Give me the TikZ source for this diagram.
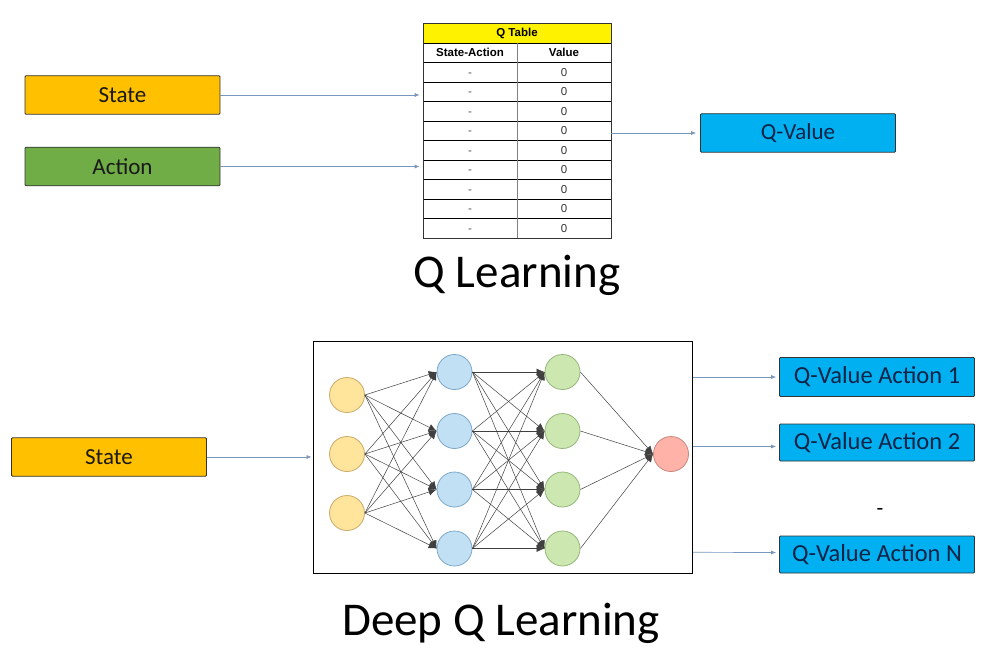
\documentclass[tikz,border=0pt]{standalone}
\usepackage{fontspec}
\setmainfont{Carlito}
\newfontfamily\tablefont{Liberation Sans}
\usetikzlibrary{arrows.meta}
\definecolor{qorange}{RGB}{255,192,0}
\definecolor{qgreen}{RGB}{112,173,71}
\definecolor{qblue}{RGB}{0,176,240}
\definecolor{qnavy}{RGB}{15,35,70}
\definecolor{qyellow}{RGB}{255,242,0}
\definecolor{flowblue}{RGB}{120,150,190}
\definecolor{inyel}{RGB}{255,228,156}
\definecolor{inyelb}{RGB}{200,170,106}
\definecolor{hidblue}{RGB}{194,224,244}
\definecolor{hidblueb}{RGB}{123,167,200}
\definecolor{hidgreen}{RGB}{205,231,176}
\definecolor{hidgreenb}{RGB}{147,183,122}
\definecolor{outred}{RGB}{255,179,168}
\definecolor{outredb}{RGB}{201,135,128}
\begin{document}
\begin{tikzpicture}[
    x=1pt, y=-1pt,
    box/.style={draw=black!80, line width=0.8pt, rounded corners=1pt,
                minimum width=195, minimum height=38.5, inner sep=0pt,
                text=black!90, font=\fontsize{23}{27}\selectfont},
    qbox/.style={box, fill=qblue, text=qnavy},
    flow/.style={draw=flowblue, line width=0.7pt, -{Latex[length=5pt,width=4pt]}},
    hdr/.style={font=\tablefont\bfseries\fontsize{11.5}{13}\selectfont, inner sep=0pt},
    cell/.style={font=\tablefont\fontsize{11.5}{13}\selectfont, inner sep=0pt,
                 text height=8.3pt, text depth=0pt},
    neuron/.style={circle, line width=0.8pt, minimum size=35, inner sep=0pt},
    edge/.style={draw=black!75, line width=0.5pt, -{Latex[length=8pt,width=7pt]}},
    title/.style={font=\fontsize{47}{54}\selectfont, inner sep=0pt}]
  \useasboundingbox (0,0) rectangle (1000,655);
  \node[box, fill=qorange] (state) at (122.5,95) {State};
  \node[box, fill=qgreen] (action) at (122.5,166.5) {Action};
  \fill[qyellow] (423,23) rectangle (611,43);
  \foreach \y in {43,62.5,82,101.5,121,140.5,160,179.5,199,218.5}
    \draw[black, line width=0.6pt] (423,\y) -- (611,\y);
  \draw[gray, line width=0.6pt] (517,43) -- (517,238);
  \node[hdr] (qhead) at (517,33) {Q Table};
  \node[hdr] (sahead) at (470,52.75) {State-Action};
  \node[hdr] (valhead) at (564,52.75) {Value};
  \foreach \i in {1,...,9} {
    \node[cell, text=black!70] (sa\i) at (470,52.75+19.5*\i) {-};
    \node[cell, text=black!80] (v\i) at (564,52.75+19.5*\i) {0};
  }
  \node[draw=black!80, line width=0.7pt, minimum width=188, minimum height=215,
        inner sep=0pt] (qtable) at (517,130.5) {};
  \node[qbox] (qvalue) at (798,133) {Q-Value};
  \draw[flow, shorten >=3pt] (state.east) -- (state.east -| qtable.west);
  \draw[flow, shorten >=3pt] (action.east) -- (action.east -| qtable.west);
  \draw[flow, shorten >=4pt] (qtable.east |- qvalue) -- (qvalue.west);
  \node[title] (qltitle) at (517,275) {Q Learning};
  \node[box, fill=qorange] (dstate) at (109,457) {State};
  \node[draw=black, line width=0.8pt, minimum width=379, minimum height=232,
        inner sep=0pt] (net) at (503,457.5) {};
  \foreach \i/\y in {1/395,2/454,3/513}
    \node[neuron, fill=inyel, draw=inyelb] (i\i) at (347,\y) {};
  \foreach \i/\y in {1/372,2/431,3/489.5,4/548.5} {
    \node[neuron, fill=hidblue, draw=hidblueb] (h\i) at (454.5,\y) {};
    \node[neuron, fill=hidgreen, draw=hidgreenb] (g\i) at (562.5,\y) {};
  }
  \node[neuron, fill=outred, draw=outredb] (o1) at (671,454) {};
  \foreach \a in {1,2,3}
    \foreach \b in {1,...,4}
      \draw[edge] (i\a.east) -- (h\b.west);
  \foreach \a in {1,...,4} {
    \foreach \b in {1,...,4}
      \draw[edge] (h\a.east) -- (g\b.west);
    \draw[edge] (g\a.east) -- (o1.west);
  }
  \draw[flow, shorten >=1.5pt] (dstate.east) -- (dstate.east -| net.west);
  \node[qbox, minimum height=39, font=\fontsize{24.5}{28}\selectfont] (qa1) at (877,377) {Q-Value Action 1};
  \node[qbox, minimum height=37, font=\fontsize{24.5}{28}\selectfont] (qa2) at (877,442.5) {Q-Value Action 2};
  \node[qbox, minimum height=37, font=\fontsize{24.5}{28}\selectfont] (qan) at (877,554.5) {Q-Value Action N};
  \node[font=\fontsize{22}{26}\selectfont, inner sep=0pt] (qdots) at (880,512) {-};
  \draw[flow, shorten >=3pt] (net.east |- qa1) -- (qa1.west);
  \draw[flow, shorten >=3pt] (net.east |- 0,446.5) -- ([yshift=-4pt]qa2.west);
  \draw[flow, shorten >=3pt] (net.east |- 0,552.3) -- ([yshift=2pt]qan.west);
  \node[title] (dqltitle) at (501,623) {Deep Q Learning};
\end{tikzpicture}
\end{document}
